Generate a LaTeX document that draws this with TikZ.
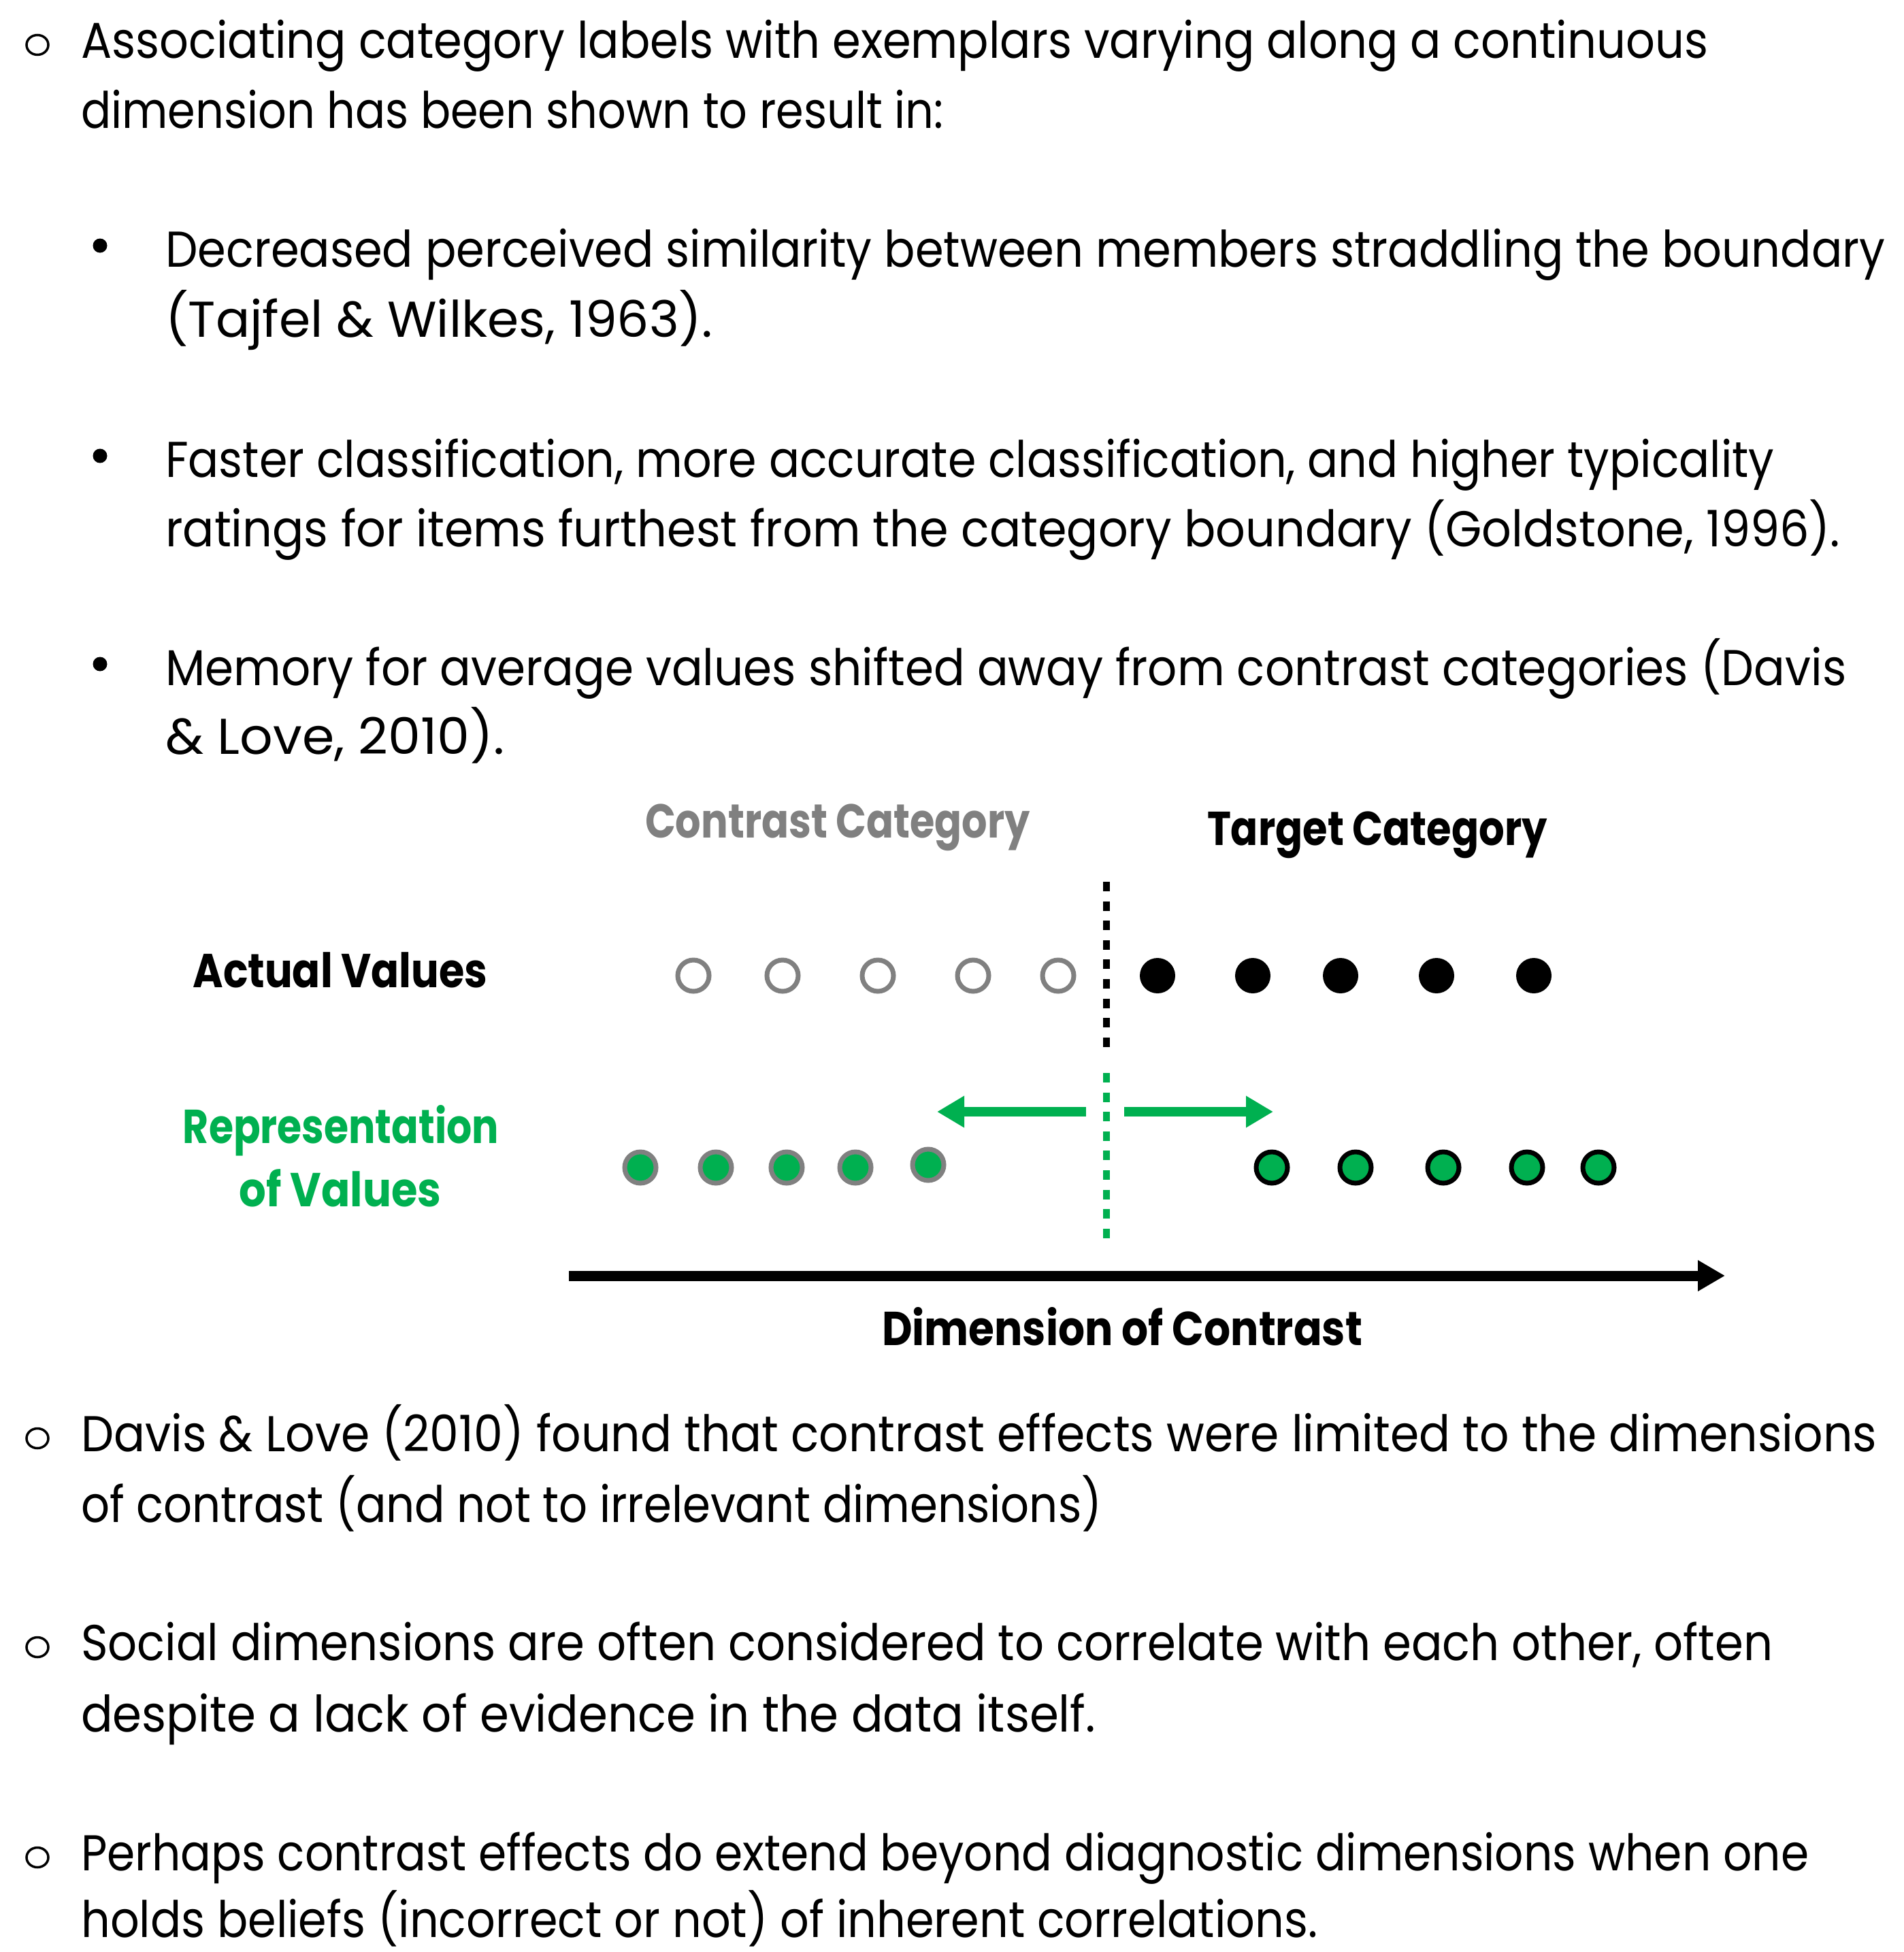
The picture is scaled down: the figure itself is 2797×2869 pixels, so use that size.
\documentclass[tikz,border=0pt]{standalone}
\usepackage{fontspec}
\usepackage{graphicx}
\setmainfont{Poppins}
\usetikzlibrary{arrows.meta,shapes.geometric}
\definecolor{pptgreen}{HTML}{00B050}
\definecolor{pptgray}{HTML}{808080}
\newcommand{\bodysize}{\fontsize{74}{100}\selectfont}
\newcommand{\labsize}{\fontsize{70}{90}\selectfont\bfseries}
\newcommand{\fitw}[2]{\resizebox{#1pt}{\height}{#2}}
\begin{document}
\begin{tikzpicture}[x=1pt,y=-1pt,
  body/.style={anchor=base west, inner sep=0pt, font=\bodysize},
  lab/.style={anchor=base, inner sep=0pt, font=\labsize},
  mainbul/.style={ellipse, draw=black, line width=3.5pt, minimum width=32pt, minimum height=29pt, inner sep=0pt},
  subbul/.style={circle, fill=black, minimum size=21pt, inner sep=0pt},
  opendot/.style={circle, draw=pptgray, fill=white, line width=7pt, minimum size=46pt, inner sep=0pt},
  fulldot/.style={circle, fill=black, minimum size=52pt, inner sep=0pt},
  greygreen/.style={circle, draw=pptgray, fill=pptgreen, line width=7pt, minimum size=46pt, inner sep=0pt},
  blackgreen/.style={circle, draw=black, fill=pptgreen, line width=7pt, minimum size=46pt, inner sep=0pt},
  boundary/.style={line width=10pt, dash pattern=on 14pt off 14.6pt},
  shiftarrow/.style={pptgreen, line width=14pt, -{Triangle[length=40pt,width=44pt]}},
  axisarrow/.style={black, line width=15pt, -{Triangle[length=40pt,width=43pt]}}
]
\useasboundingbox (0,0) rectangle (2797,2869);

% ---------- top bullet text ----------
\node[mainbul] (b1) at (55,66) {};
\node[body] (t1) at (119,85) {\fitw{2391}{Associating category labels with exemplars varying along a continuous}};
\node[body] (t2) at (119,188) {\fitw{1267}{dimension has been shown to result in:}};

\node[subbul] (s1) at (147,361) {};
\node[body] (t3) at (243,392) {\fitw{2527}{Decreased perceived similarity between members straddling the boundary}};
\node[body] (t4) at (243,495) {\fitw{804}{(Tajfel \& Wilkes, 1963).}};

\node[subbul] (s2) at (147,670) {};
\node[body] (t5) at (243,701) {\fitw{2364}{Faster classification, more accurate classification, and higher typicality}};
\node[body] (t6) at (243,803) {\fitw{2461}{ratings for items furthest from the category boundary (Goldstone, 1996).}};

\node[subbul] (s3) at (147,976) {};
\node[body] (t7) at (243,1007) {\fitw{2470}{Memory for average values shifted away from contrast categories (Davis}};
\node[body] (t8) at (243,1108) {\fitw{498}{\& Love, 2010).}};

% ---------- diagram ----------
\node[lab, text=pptgray] (contrast) at (1231,1231) {\fitw{566}{Contrast Category}};
\node[lab, text=black] (target) at (2024,1242) {\fitw{500}{Target Category}};
\node[lab, text=black] (actual) at (500,1451) {\fitw{433}{Actual Values}};
\node[lab, text=pptgreen] (rep1) at (501,1680) {\fitw{464}{Representation}};
\node[lab, text=pptgreen] (rep2) at (500,1773) {\fitw{297}{of Values}};

\coordinate (btop) at (1626,1296);
\coordinate (bbot) at (1626,1542);
\draw[boundary, black] (btop) -- (bbot);
\coordinate (gtop) at (1626,1577);
\coordinate (gbot) at (1626,1823);
\draw[boundary, pptgreen] (gtop) -- (gbot);

\node[opendot] (o1) at (1019,1434) {};
\node[opendot] (o2) at (1150,1434) {};
\node[opendot] (o3) at (1290,1434) {};
\node[opendot] (o4) at (1430,1434) {};
\node[opendot] (o5) at (1555,1434) {};
\node[fulldot] (f1) at (1701,1434) {};
\node[fulldot] (f2) at (1841,1434) {};
\node[fulldot] (f3) at (1970,1434) {};
\node[fulldot] (f4) at (2111,1434) {};
\node[fulldot] (f5) at (2254,1434) {};

\coordinate (la0) at (1596,1634);
\coordinate (la1) at (1377,1634);
\coordinate (ra0) at (1652,1634);
\coordinate (ra1) at (1871,1634);
\draw[shiftarrow] (la0) -- (la1);
\draw[shiftarrow] (ra0) -- (ra1);

\node[greygreen] (g1) at (941,1716) {};
\node[greygreen] (g2) at (1052,1716) {};
\node[greygreen] (g3) at (1156,1716) {};
\node[greygreen] (g4) at (1257,1716) {};
\node[greygreen] (g5) at (1364,1712) {};
\node[blackgreen] (h1) at (1869,1716) {};
\node[blackgreen] (h2) at (1992,1716) {};
\node[blackgreen] (h3) at (2121,1716) {};
\node[blackgreen] (h4) at (2244,1716) {};
\node[blackgreen] (h5) at (2349,1716) {};

\coordinate (axs) at (836,1875);
\coordinate (axe) at (2535,1875);
\draw[axisarrow] (axs) -- (axe);
\node[lab, text=black] (dim) at (1649,1977) {\fitw{706}{Dimension of Contrast}};

% ---------- bottom bullet text ----------
\node[mainbul] (b2) at (55,2114) {};
\node[body] (t9) at (119,2133) {\fitw{2639}{Davis \& Love (2010) found that contrast effects were limited to the dimensions}};
\node[body] (t10) at (119,2237) {\fitw{1500}{of contrast (and not to irrelevant dimensions)}};

\node[mainbul] (b3) at (55,2421) {};
\node[body] (t11) at (119,2440) {\fitw{2486}{Social dimensions are often considered to correlate with each other, often}};
\node[body] (t12) at (119,2545) {\fitw{1491}{despite a lack of evidence in the data itself.}};

\node[mainbul] (b4) at (55,2730) {};
\node[body] (t13) at (119,2749) {\fitw{2539}{Perhaps contrast effects do extend beyond diagnostic dimensions when one}};
\node[body] (t14) at (119,2847) {\fitw{1817}{holds beliefs (incorrect or not) of inherent correlations.}};
\end{tikzpicture}
\end{document}
